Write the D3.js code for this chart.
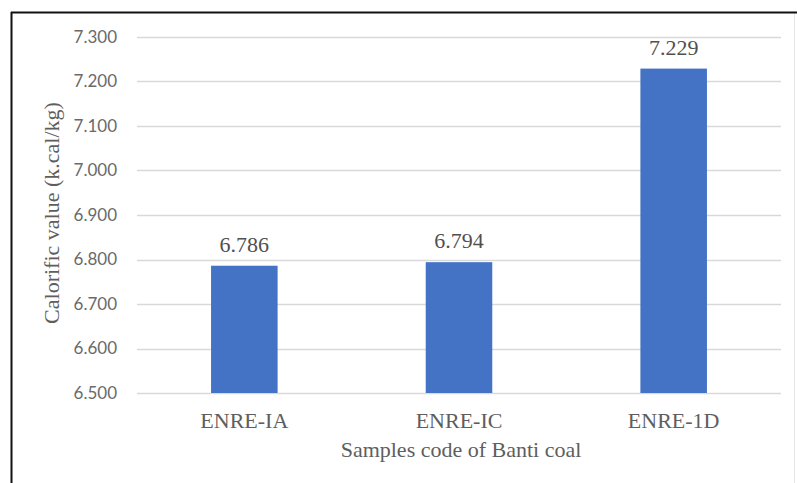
<!DOCTYPE html>
<html><head><meta charset="utf-8">
<script src="https://cdn.jsdelivr.net/npm/d3@7"></script>
<style>body{margin:0;background:#fff}svg{display:block}</style>
</head><body>
<script>
const categories = ["ENRE-IA", "ENRE-IC", "ENRE-1D"];
const values = [6.786, 6.794, 7.229];
const yTicks = [6.5, 6.6, 6.7, 6.8, 6.9, 7.0, 7.1, 7.2, 7.3];
const xTitle = "Samples code of Banti coal";
const yTitle = "Calorific value (k.cal/kg)";

const W = 797, H = 483;
const svg = d3.select("body").append("svg").attr("width", W).attr("height", H);

// frame
svg.append("line").attr("x1", 11.5).attr("x2", 11.5).attr("y1", 12).attr("y2", H).attr("stroke", "#111").attr("stroke-width", 2);
svg.append("line").attr("x1", 11).attr("x2", W).attr("y1", 12.5).attr("y2", 12.5).attr("stroke", "#111").attr("stroke-width", 2);
svg.append("line").attr("x1", 794.5).attr("x2", 794.5).attr("y1", 14).attr("y2", H).attr("stroke", "#e6e6e6").attr("stroke-width", 1);

const pL = 137, pR = 781, pT = 37, pB = 393;
const x = d3.scaleBand().domain(categories).range([pL, pR]).paddingInner(0.69).paddingOuter(0.345);
const y = d3.scaleLinear().domain([6.5, 7.3]).range([pB, pT]);

const serif = "'Liberation Serif', 'Times New Roman', serif";

// gridlines
svg.append("g").selectAll("line").data(yTicks).join("line")
  .attr("x1", pL).attr("x2", pR)
  .attr("y1", d => Math.round(y(d)) + 0.5).attr("y2", d => Math.round(y(d)) + 0.5)
  .attr("stroke", "#d9d9d9").attr("stroke-width", 1.3);

// y axis labels
const yAxis = d3.axisLeft(y).tickValues(yTicks).tickSize(0).tickPadding(0).tickFormat(d3.format(".3f"));
const gy = svg.append("g").attr("transform", `translate(${117},0)`).call(yAxis);
gy.select(".domain").remove();
gy.selectAll("text").attr("fill", "#6a6a6a").style("font-family", "Lato, 'Liberation Sans', sans-serif").style("font-size", "17px");

// bars
svg.append("g").selectAll("rect").data(values).join("rect")
  .attr("x", (d, i) => x(categories[i]))
  .attr("width", x.bandwidth())
  .attr("y", d => y(d))
  .attr("height", d => y(6.5) - y(d))
  .attr("fill", "#4472C4");

// value labels
svg.append("g").selectAll("text").data(values).join("text")
  .attr("x", (d, i) => x(categories[i]) + x.bandwidth() / 2)
  .attr("y", d => y(d) - 14)
  .attr("text-anchor", "middle")
  .attr("fill", "#505050")
  .style("font-family", serif).style("font-size", "22px")
  .text(d => d3.format(".3f")(d));

// x axis labels
const xAxis = d3.axisBottom(x).tickSize(0).tickPadding(0);
const gx = svg.append("g").attr("transform", `translate(0,${pB + 18})`).call(xAxis);
gx.select(".domain").remove();
gx.selectAll("text").attr("dy", null).attr("y", 17).attr("fill", "#5e5e5e").style("font-family", serif).style("font-size", "22px");

// axis titles
svg.append("text").attr("x", 461).attr("y", 457)
  .attr("text-anchor", "middle").attr("fill", "#5e5e5e")
  .style("font-family", serif).style("font-size", "22px").text(xTitle);
svg.append("text").attr("transform", `translate(59,213) rotate(-90)`)
  .attr("text-anchor", "middle").attr("fill", "#5e5e5e")
  .style("font-family", serif).style("font-size", "22px").text(yTitle);
</script>
</body></html>
